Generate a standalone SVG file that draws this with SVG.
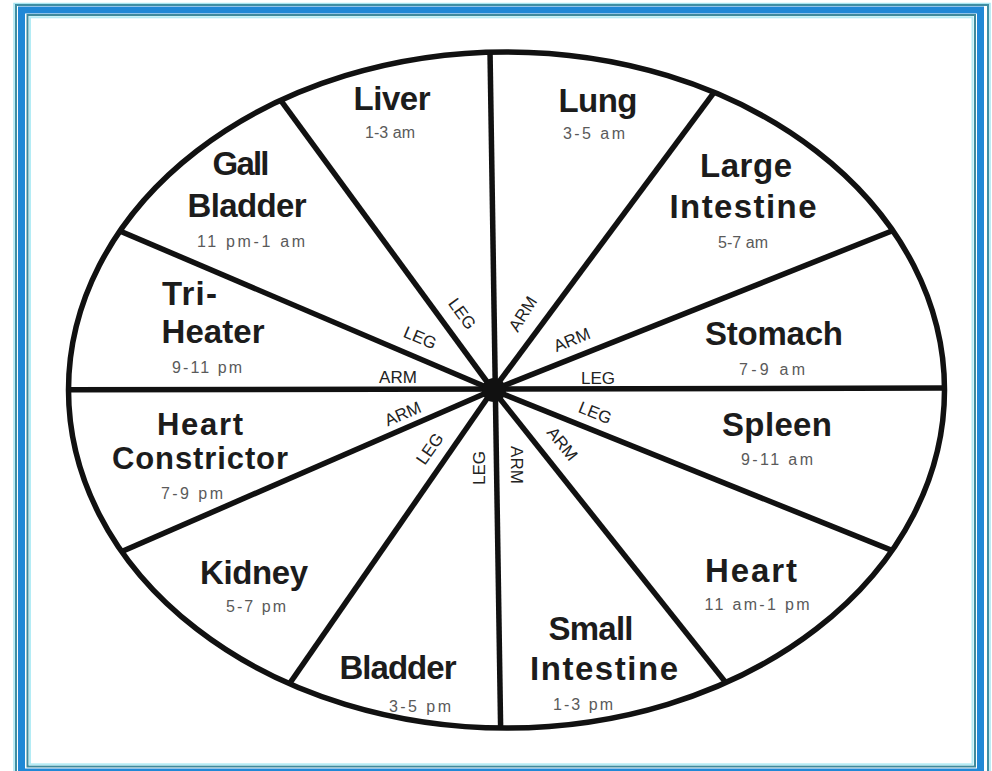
<svg xmlns="http://www.w3.org/2000/svg" width="992" height="771" viewBox="0 0 992 771">
<style>
.t{font-family:"Liberation Sans",Arial,sans-serif;font-weight:bold;font-size:33px;fill:#1c1c1c;text-anchor:middle}
.h{font-family:"Liberation Sans",Arial,sans-serif;font-size:16px;fill:#5a5a5a;text-anchor:middle}
.al{font-family:"Liberation Sans",Arial,sans-serif;font-size:17px;fill:#222;text-anchor:middle;dominant-baseline:central}
.sp{stroke:#111;stroke-width:5.5;fill:none;stroke-linecap:butt}
</style>
<defs>
<clipPath id="ov"><ellipse cx="506.5" cy="390" rx="438" ry="338"/></clipPath>
</defs>
<rect width="992" height="771" fill="#ffffff"/>
<g id="frame" fill="none">
<rect x="14" y="3.5" width="976" height="800" stroke="#a8e6f2" stroke-width="1.5"/>
<rect x="16" y="5" width="972" height="800" stroke="#3f8ea3" stroke-width="2"/>
<rect x="21.5" y="10" width="959" height="762" stroke="#2088d6" stroke-width="7"/>
<rect x="27.5" y="15" width="947.5" height="751.5" stroke="#3f8a9c" stroke-width="2"/>
<rect x="30" y="17.3" width="942.5" height="747" stroke="#b4ecf5" stroke-width="2"/>
</g>
<ellipse cx="506.5" cy="390" rx="438" ry="338" fill="#fff"/>
<g id="connectors" class="sp" clip-path="url(#ov)">
<line x1="489.2" y1="0" x2="501.3" y2="771"/>
<line x1="0" y1="390" x2="992" y2="388"/>
<line x1="493" y1="390" x2="776" y2="9"/>
<line x1="493" y1="390" x2="992" y2="191"/>
<line x1="493" y1="390" x2="1003" y2="595"/>
<line x1="493" y1="390" x2="793" y2="767"/>
<line x1="493" y1="390" x2="229" y2="771"/>
<line x1="493" y1="390" x2="8" y2="601"/>
<line x1="493" y1="390" x2="5" y2="182"/>
<line x1="493" y1="390" x2="213" y2="8"/>
</g>
<ellipse cx="506.5" cy="390" rx="438" ry="338" class="sp"/>
<circle id="hub" cx="494" cy="390" r="12" fill="#111"/>
<g id="limb-labels">
<text class="al" transform="translate(462,314) rotate(53.8)">LEG</text>
<text class="al" transform="translate(420,338) rotate(23)">LEG</text>
<text class="al" transform="translate(398,377)">ARM</text>
<text class="al" transform="translate(403,414) rotate(-23.5)">ARM</text>
<text class="al" transform="translate(430,449) rotate(-55)">LEG</text>
<text class="al" transform="translate(479,468) rotate(-90)">LEG</text>
<text class="al" transform="translate(516,465) rotate(90)">ARM</text>
<text class="al" transform="translate(562,444) rotate(51.5)">ARM</text>
<text class="al" transform="translate(595,413) rotate(22)">LEG</text>
<text class="al" transform="translate(598,378)">LEG</text>
<text class="al" transform="translate(572,340) rotate(-22)">ARM</text>
<text class="al" transform="translate(523,314) rotate(-58)">ARM</text>
</g>
<g id="liver">
<text class="t" x="392" y="110" textLength="77" lengthAdjust="spacing">Liver</text>
<text class="h" x="390" y="138" textLength="50" lengthAdjust="spacing">1-3 am</text>
</g>
<g id="lung">
<text class="t" x="598" y="112" textLength="79" lengthAdjust="spacing">Lung</text>
<text class="h" x="594" y="139" textLength="62" lengthAdjust="spacing">3-5 am</text>
</g>
<g id="large-intestine">
<text class="t" x="746" y="177" textLength="92" lengthAdjust="spacing">Large</text>
<text class="t" x="743" y="218" textLength="147" lengthAdjust="spacing">Intestine</text>
<text class="h" x="743" y="248" textLength="50" lengthAdjust="spacing">5-7 am</text>
</g>
<g id="stomach">
<text class="t" x="774" y="345" textLength="138" lengthAdjust="spacing">Stomach</text>
<text class="h" x="772" y="375" textLength="66" lengthAdjust="spacing">7-9 am</text>
</g>
<g id="spleen">
<text class="t" x="777" y="436" textLength="110" lengthAdjust="spacing">Spleen</text>
<text class="h" x="777" y="465" textLength="72" lengthAdjust="spacing">9-11 am</text>
</g>
<g id="heart">
<text class="t" x="751" y="582" textLength="92" lengthAdjust="spacing">Heart</text>
<text class="h" x="757" y="610" textLength="105" lengthAdjust="spacing">11 am-1 pm</text>
</g>
<g id="small-intestine">
<text class="t" x="591" y="640" textLength="85" lengthAdjust="spacing">Small</text>
<text class="t" x="604" y="680" textLength="148" lengthAdjust="spacing">Intestine</text>
<text class="h" x="583" y="710" textLength="60" lengthAdjust="spacing">1-3 pm</text>
</g>
<g id="bladder">
<text class="t" x="398" y="679" textLength="117" lengthAdjust="spacing">Bladder</text>
<text class="h" x="420" y="712" textLength="62" lengthAdjust="spacing">3-5 pm</text>
</g>
<g id="kidney">
<text class="t" x="254" y="584" textLength="108" lengthAdjust="spacing">Kidney</text>
<text class="h" x="256" y="612" textLength="60" lengthAdjust="spacing">5-7 pm</text>
</g>
<g id="heart-constrictor">
<text class="t" x="200" y="435" style="font-size:31px" textLength="86" lengthAdjust="spacing">Heart</text>
<text class="t" x="200" y="469" style="font-size:31px" textLength="176" lengthAdjust="spacing">Constrictor</text>
<text class="h" x="192" y="499" textLength="62" lengthAdjust="spacing">7-9 pm</text>
</g>
<g id="tri-heater">
<text class="t" x="162" y="305" style="text-anchor:start" textLength="55" lengthAdjust="spacing">Tri-</text>
<text class="t" x="213" y="343" textLength="103" lengthAdjust="spacing">Heater</text>
<text class="h" x="207" y="373" textLength="70" lengthAdjust="spacing">9-11 pm</text>
</g>
<g id="gall-bladder">
<text class="t" x="241" y="175" textLength="57" lengthAdjust="spacing">Gall</text>
<text class="t" x="247" y="217" textLength="119" lengthAdjust="spacing">Bladder</text>
<text class="h" x="251" y="247" textLength="108" lengthAdjust="spacing">11 pm-1 am</text>
</g>
</svg>
